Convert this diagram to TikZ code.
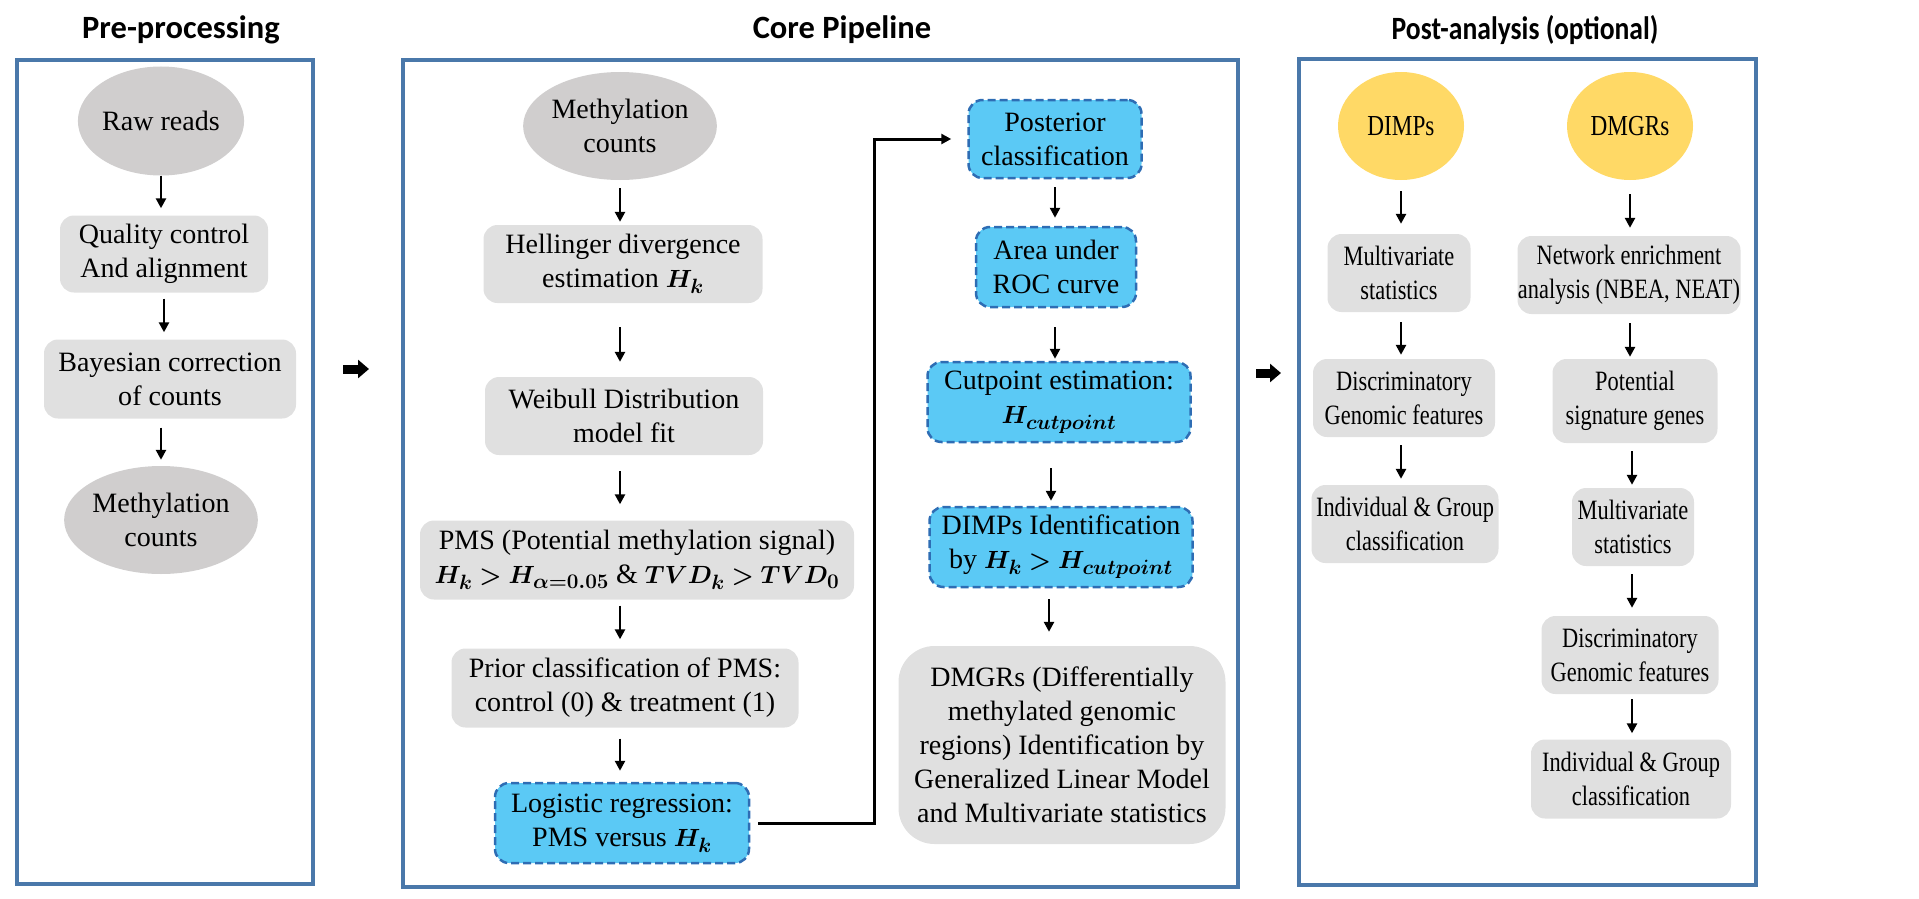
\documentclass[tikz,border=0pt]{standalone}
\usepackage{amsmath}
\usepackage{bm}
\usepackage{fontspec}
\setmainfont{Liberation Serif}
\newfontfamily\bodyfont[FakeStretch=1.001]{Liberation Serif}
\newfontfamily\headfont{Carlito}
\newfontfamily\narrowhead[FakeStretch=0.85]{Carlito}
\newfontfamily\narrowfont[FakeStretch=0.8]{Liberation Serif}
\usetikzlibrary{shapes.geometric,arrows.meta}
\definecolor{ellgrey}{HTML}{D0CECE}
\definecolor{boxgrey}{HTML}{E0E0E0}
\definecolor{skyblue}{HTML}{5BC9F5}
\definecolor{dashblue}{HTML}{2E6DB4}
\definecolor{dimpyellow}{HTML}{FFD966}
\definecolor{panelblue}{HTML}{4A78AA}

\begin{document}
\begin{tikzpicture}[x=1pt,y=-1pt,
	every node/.style={font=\bodyfont\fontsize{28}{34}\selectfont},
	greyell/.style={ellipse,fill=ellgrey,inner sep=0pt,minimum width=163pt,minimum height=108pt,align=center},
	yellell/.style={ellipse,fill=dimpyellow,inner sep=0pt,minimum width=126pt,minimum height=108pt,font=\narrowfont\fontsize{29}{34}\selectfont},
	stepbox/.style={rounded corners=14pt,fill=boxgrey,inner sep=0pt,align=center},
	bluebox/.style={stepbox,fill=skyblue,draw=dashblue,line width=2.5pt,dash pattern=on 8pt off 4pt},
	narrow/.style={font=\narrowfont\fontsize{28}{34}\selectfont},
	wh/.style 2 args={minimum width=#1pt,minimum height=#2pt},
	panel/.style={draw=panelblue,line width=3.5pt},
	title/.style={font=\headfont\bfseries\fontsize{32.5}{38}\selectfont},
	arr/.style={-{Triangle[length=10pt,width=10pt]},line width=2.6pt},
	arrgap/.style 2 args={shorten <=#1pt,shorten >=#2pt},
	fatarr/.style={-{Triangle[length=11pt,width=18pt]},line width=9pt}]
	\useasboundingbox (0,0) rectangle (1919,899);

	\draw[panel] (17,60) rectangle (313,884);
	\draw[panel] (403,60) rectangle (1238,887);
	\draw[panel] (1299,59) rectangle (1756,885);
	\node (pretitle) at (181,30) [title] {Pre-processing};
	\node (coretitle) at (842,30) [title] {Core Pipeline};
	\node (posttitle) at (1525,30) [title,font=\narrowhead\bfseries\fontsize{32.5}{38}\selectfont] {Post-analysis (optional)};

	\node (raw) at (161,121) [greyell,minimum height=109pt] {Raw reads};
	\node (qc) at (164,254) [stepbox,wh={208}{77}] {Quality control\\And alignment};
	\node (bayes) at (170,379) [stepbox,wh={252}{79}] {Bayesian correction\\of counts};
	\node (mcl) at (161,520) [greyell] {Methylation\\counts};
	\draw[arr,arrgap={0}{7}] (raw.south) -- (raw.south |- qc.north);
	\draw[arr,arrgap={6}{7}] (qc.south) -- (qc.south |- bayes.north);
	\draw[arr,arrgap={9}{6}] (bayes.south -| mcl) -- (mcl.north);

	\coordinate (ga) at (343,369);
	\coordinate (gb) at (369,369);
	\draw[fatarr] (ga) -- (gb);
	\coordinate (gc) at (1256,373);
	\coordinate (gd) at (1281,373);
	\draw[fatarr] (gc) -- (gd);

	\node (mc) at (620,126) [greyell] {Methylation\\counts};
	\node (hell) at (623,264) [stepbox,wh={279}{78}] {Hellinger divergence\\estimation $\bm{H_k}$};
	\node (weib) at (624,416) [stepbox,wh={278}{78}] {Weibull Distribution\\model fit};
	\node (pms) at (637,560) [stepbox,wh={434}{79}] {PMS (Potential methylation signal)\\$\bm{H_k > H_{\alpha=0.05}}$ \& $\bm{TVD_k > TVD_0}$};
	\node (prior) at (625,688) [stepbox,wh={347}{79}] {Prior classification of PMS:\\control (0) \& treatment (1)};
	\node (logit) at (622,823) [bluebox,wh={254}{80}] {Logistic regression:\\PMS versus $\bm{H_k}$};
	\draw[arr,arrgap={8}{3}] (mc.south) -- (mc.south |- hell.north);
	\draw[arr,arrgap={24}{15}] (mc.south |- hell.south) -- (mc.south |- weib.north);
	\draw[arr,arrgap={16}{16}] (mc.south |- weib.south) -- (mc.south |- pms.north);
	\draw[arr,arrgap={6}{9}] (mc.south |- pms.south) -- (mc.south |- prior.north);
	\draw[arr,arrgap={11}{11}] (mc.south |- prior.south) -- (mc.south |- logit.north);

	\node (post) at (1055,139) [bluebox,wh={173}{78}] {Posterior\\classification};
	\node (auc) at (1056,267) [bluebox,wh={160}{80}] {Area under\\ROC curve};
	\node (cut) at (1059,402) [bluebox,wh={263}{80}] {Cutpoint estimation:\\$\bm{H_{cutpoint}}$};
	\node (dimp) at (1061,547) [bluebox,wh={263}{80}] {DIMPs Identification\\by $\bm{H_k > H_{cutpoint}}$};
	\node (dmgr) at (1062,745) [stepbox,rounded corners=36pt,wh={327}{198}] {DMGRs (Differentially\\methylated genomic\\regions) Identification by\\Generalized Linear Model\\and Multivariate statistics};
	\coordinate (bend) at (874,0);
	\draw[arr,line width=3pt,shorten <=8pt,shorten >=16pt] (logit.east) -- (logit.east -| bend) |- (post.west);
	\draw[arr,arrgap={8}{8}] (post.south) -- (post.south |- auc.north);
	\draw[arr,arrgap={19}{2}] (post.south |- auc.south) -- (post.south |- cut.north);
	\draw[arr,arrgap={25}{5}] (1051,0 |- cut.south) -- (1051,0 |- dimp.north);
	\draw[arr,arrgap={11}{14}] (1049,0 |- dimp.south) -- (1049,0 |- dmgr.north);

	\node (dimps) at (1401,126) [yellell] {DIMPs};
	\node (mvl) at (1399,273) [stepbox,narrow,wh={143}{78}] {Multivariate\\statistics};
	\node (discl) at (1404,398) [stepbox,narrow,wh={182}{78}] {Discriminatory\\Genomic features};
	\node (indl) at (1405,524) [stepbox,narrow,wh={187}{78}] {Individual \& Group\\classification};
	\draw[arr,arrgap={11}{10}] (dimps.south) -- (dimps.south |- mvl.north);
	\draw[arr,arrgap={10}{4}] (dimps.south |- mvl.south) -- (dimps.south |- discl.north);
	\draw[arr,arrgap={8}{6}] (dimps.south |- discl.south) -- (dimps.south |- indl.north);

	\node (dmgrs) at (1630,126) [yellell] {DMGRs};
	\node (net) at (1629,275) [stepbox,narrow,wh={223}{78}] {Network enrichment\\analysis (NBEA, NEAT)};
	\node (sig) at (1635,401) [stepbox,narrow,wh={165}{84}] {Potential\\signature genes};
	\node (mvr) at (1633,527) [stepbox,narrow,wh={122}{78}] {Multivariate\\statistics};
	\node (discr) at (1630,655) [stepbox,narrow,wh={177}{78}] {Discriminatory\\Genomic features};
	\node (indr) at (1631,779) [stepbox,narrow,wh={200}{79}] {Individual \& Group\\classification};
	\draw[arr,arrgap={14}{8}] (dmgrs.south) -- (dmgrs.south |- net.north);
	\draw[arr,arrgap={9}{2}] (dmgrs.south |- net.south) -- (dmgrs.south |- sig.north);
	\draw[arr,arrgap={8}{3}] (1632,0 |- sig.south) -- (1632,0 |- mvr.north);
	\draw[arr,arrgap={8}{8}] (1632,0 |- mvr.south) -- (1632,0 |- discr.north);
	\draw[arr,arrgap={5}{6}] (1632,0 |- discr.south) -- (1632,0 |- indr.north);
\end{tikzpicture}
\end{document}
